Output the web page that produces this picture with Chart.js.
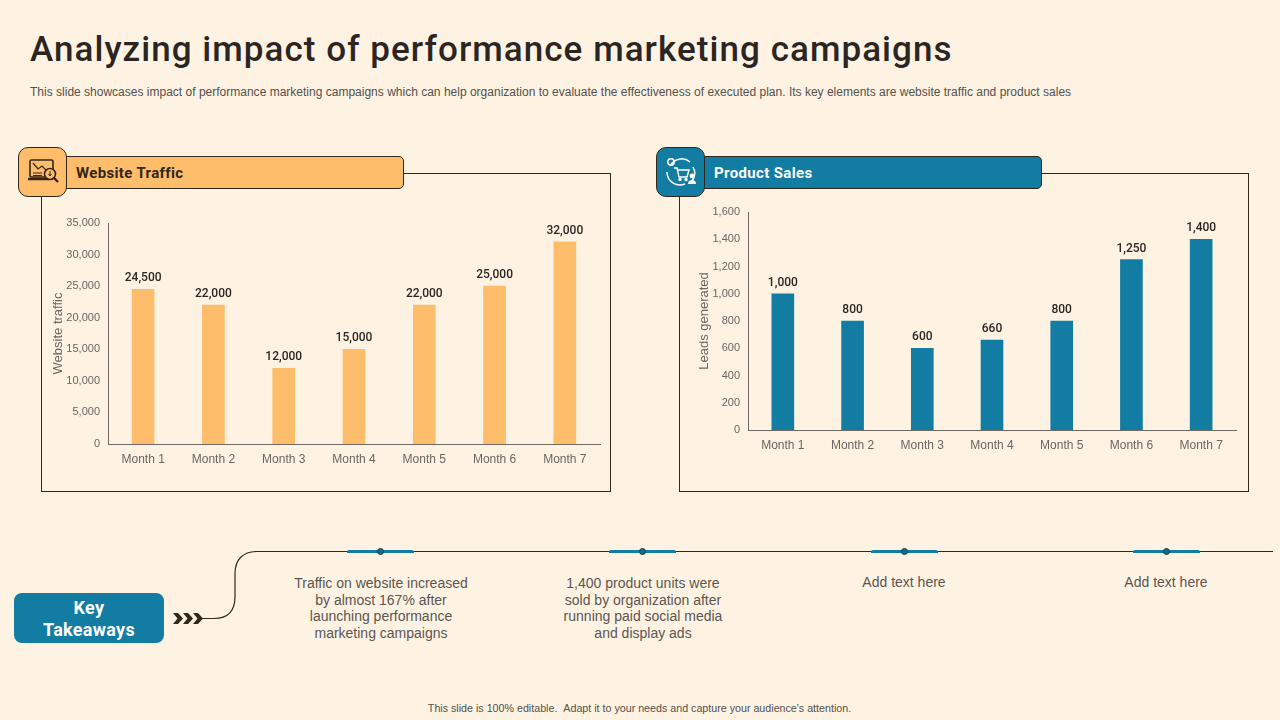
<!DOCTYPE html>
<html>
<head>
<meta charset="utf-8">
<title>Analyzing impact of performance marketing campaigns</title>
<script src="https://cdn.jsdelivr.net/npm/chart.js@4/dist/chart.umd.min.js"></script>
<style>
html, body { margin: 0; padding: 0; }
body { width: 1280px; height: 720px; background: #fef3e2; position: relative; overflow: hidden; font-family: "Liberation Sans", Arial, sans-serif; }
.abs { position: absolute; }
h1 { position: absolute; left: 30px; top: 29px; margin: 0; font: 500 35px Roboto, sans-serif; letter-spacing: 1.05px; color: #2b2623; white-space: nowrap; }
.sub { left: 30px; top: 85px; font-size: 12px; color: #55504c; white-space: nowrap; letter-spacing: 0.005px; }
.frame { border: 1.3px solid #33261a; box-sizing: border-box; }
.bar { box-sizing: border-box; border: 1.2px solid #33261a; border-radius: 5px; height: 33px; top: 156px; font: 700 15px Roboto, sans-serif; line-height: 33px; letter-spacing: 0.35px; }
.badge { box-sizing: border-box; border: 1.2px solid #33261a; border-radius: 10px; width: 49px; height: 50px; top: 147px; }
.badge svg { display: block; }
canvas { position: absolute; }
.note { width: 220px; text-align: center; font-size: 14px; line-height: 16.7px; color: #5c5652; top: 575px; white-space: nowrap; }
.seg { height: 3px; width: 67px; top: 550px; background: #127ca3; border-radius: 2px 2px 0 0; }
.dot { width: 7px; height: 7px; top: 548px; border-radius: 50%; background: #146c8a; border: 1px solid #1f3f4d; box-sizing: border-box; }
.key { left: 14px; top: 593px; width: 150px; height: 50px; border-radius: 8px; background: #127ca3; color: #fff; text-align: center; font: 700 18px/22px Roboto, sans-serif; padding-top: 4px; box-sizing: border-box; letter-spacing: 0.3px; }
.foot { left: 0; width: 1279px; top: 702px; text-align: center; font-size: 10.7px; color: #55504c; }
</style>
</head>
<body>
<h1>Analyzing impact of performance marketing campaigns</h1>
<div class="abs sub">This slide showcases impact of performance marketing campaigns which can help organization to evaluate the effectiveness of executed plan. Its key elements are website traffic and product sales</div>

<div class="abs frame" style="left:41px;top:173px;width:570px;height:319px"></div>
<div class="abs frame" style="left:679px;top:173px;width:570px;height:319px"></div>
<canvas id="trafficChart" style="left:42px;top:190px"></canvas>
<canvas id="salesChart" style="left:680px;top:190px"></canvas>

<div class="abs bar" style="left:60px;width:344px;background:#fdbd6b;color:#33261a;padding-left:15px">Website Traffic</div>
<div class="abs badge" style="left:18px;background:#fdbd6b">
  <svg width="47" height="48" viewBox="0 0 47 48" fill="none" stroke="#33261a" stroke-width="1.6">
    <rect x="11" y="12" width="23" height="17" rx="1.5"/>
    <path d="M9 31h21" stroke-width="2.5"/>
    <path d="M14 15l5 6 4-3 5 5" stroke-width="1.2"/>
    <path d="M14 25h9M14 27.5h9" stroke-width="1"/>
    <circle cx="31" cy="26" r="5.5" fill="#fdbd6b"/>
    <path d="M35 30l4 4" stroke-width="2.4"/>
    <path d="M31 23v4M29.5 26l1.5 2 1.5-2" stroke-width="1"/>
  </svg>
</div>

<div class="abs bar" style="left:698px;width:344px;background:#127ca3;color:#fff;padding-left:15px">Product Sales</div>
<div class="abs badge" style="left:656px;background:#127ca3">
  <svg width="47" height="48" viewBox="0 0 47 48" fill="none" stroke="#fff" stroke-width="1.5">
    <path d="M13 18a13 13 0 0 1 20 -4"/>
    <path d="M36 19a13 13 0 0 1 -1 14"/>
    <path d="M10 24a13 13 0 0 0 18 12"/>
    <circle cx="14" cy="14" r="3.2"/>
    <path d="M17 20h3l2 9h8l2-7H21" stroke-width="1.4"/>
    <circle cx="23" cy="31.5" r="1" fill="#fff"/><circle cx="29" cy="31.5" r="1" fill="#fff"/>
    <circle cx="35" cy="28" r="2.4" fill="#fff" stroke="none"/>
    <path d="M31 36c0-3 2-4 4-4s4 1 4 4z" fill="#fff" stroke="none"/>
  </svg>
</div>

<!-- key takeaways connector -->
<svg class="abs" style="left:0;top:540px" width="1280" height="100" fill="none">
  <path d="M200 78.5h14c12 0 21-6 21-22v-23c0-14 8-22 22-22H1273" stroke="#33261a" stroke-width="1.2"/>
  <g fill="#33261a">
    <path d="M173 73h5l5 5.5-5 5.5h-5l4.500-5.500z"/>
    <path d="M183 73h5l5 5.500-5 5.500h-5l4.500-5.500z"/>
    <path d="M193 73h5l5 5.500-5 5.500h-5l4.500-5.500z"/>
  </g>
</svg>
<div class="abs key">Key<br>Takeaways</div>

<div class="abs seg" style="left:347px"></div><div class="abs dot" style="left:377px"></div>
<div class="abs seg" style="left:609px"></div><div class="abs dot" style="left:639px"></div>
<div class="abs seg" style="left:871px"></div><div class="abs dot" style="left:901px"></div>
<div class="abs seg" style="left:1133px"></div><div class="abs dot" style="left:1163px"></div>

<div class="abs note" style="left:271px">Traffic on website increased<br>by almost 167% after<br>launching performance<br>marketing campaigns</div>
<div class="abs note" style="left:533px">1,400 product units were<br>sold by organization after<br>running paid social media<br>and display ads</div>
<div class="abs note" style="left:794px;top:574px">Add text here</div>
<div class="abs note" style="left:1056px;top:574px">Add text here</div>

<div class="abs foot">This slide is 100% editable. &nbsp;Adapt it to your needs and capture your audience's attention.</div>

<script>
const months = ['Month 1', 'Month 2', 'Month 3', 'Month 4', 'Month 5', 'Month 6', 'Month 7'];
const trafficValues = [24500, 22000, 12000, 15000, 22000, 25000, 32000];
const salesValues = [1000, 800, 600, 660, 800, 1250, 1400];

const axisGrey = '#6f6a64';
const tickGrey = '#6b6661';

// draws the number above every bar
const barValues = {
    id: 'barValues',
    afterDatasetsDraw(chart) {
        const ctx = chart.ctx;
        const values = chart.data.datasets[0].data;
        ctx.save();
        ctx.font = '500 12px Roboto, sans-serif';
        ctx.fillStyle = '#2b2623';
        ctx.textAlign = 'center';
        ctx.textBaseline = 'bottom';
        chart.getDatasetMeta(0).data.forEach(function(bar, i) {
            ctx.fillText(values[i].toLocaleString('en-US'), bar.x, bar.y - 5);
        });
        ctx.restore();
    }
};

function makeChart(id, width, height, title, values, color, maxValue, step, padding, axisWidth) {
    const canvas = document.getElementById(id);
    canvas.width = width;
    canvas.height = height;
    canvas.style.width = width + 'px';
    canvas.style.height = height + 'px';
    return new Chart(canvas.getContext('2d'), {
        type: 'bar',
        data: {
            labels: months,
            datasets: [{ data: values, backgroundColor: color, barThickness: 22 }]
        },
        plugins: [barValues],
        options: {
            responsive: false,
            animation: false,
            layout: { padding: padding },
            plugins: { legend: { display: false }, tooltip: { enabled: false } },
            scales: {
                x: {
                    grid: { display: false, drawTicks: false },
                    border: { color: axisGrey, width: 1 },
                    ticks: { color: tickGrey, font: { family: 'Liberation Sans', size: 12 }, padding: 8, maxRotation: 0 },
                    afterFit(scale) { scale.height = 28; }
                },
                y: {
                    min: 0,
                    max: maxValue,
                    grid: { display: false, drawTicks: false },
                    border: { color: axisGrey, width: 1 },
                    ticks: {
                        stepSize: step,
                        color: tickGrey,
                        font: { family: 'Liberation Sans', size: 11 },
                        padding: 8,
                        callback: function(v) { return v.toLocaleString('en-US'); }
                    },
                    title: {
                        display: true,
                        text: title,
                        color: tickGrey,
                        font: { family: 'Liberation Sans', size: 13 },
                        padding: 0
                    },
                    afterFit(scale) { scale.width = axisWidth; }
                }
            }
        }
    });
}

window.onload = function() {
    makeChart('trafficChart', 568, 282, 'Website traffic', trafficValues, '#fdbd6b', 35000, 5000,
        { left: 9, right: 10, top: 33, bottom: 0 }, 57);
    makeChart('salesChart', 568, 282, 'Leads generated', salesValues, '#127ca3', 1600, 200,
        { left: 17, right: 12, top: 22, bottom: 14 }, 51);
};
</script>
</body>
</html>
